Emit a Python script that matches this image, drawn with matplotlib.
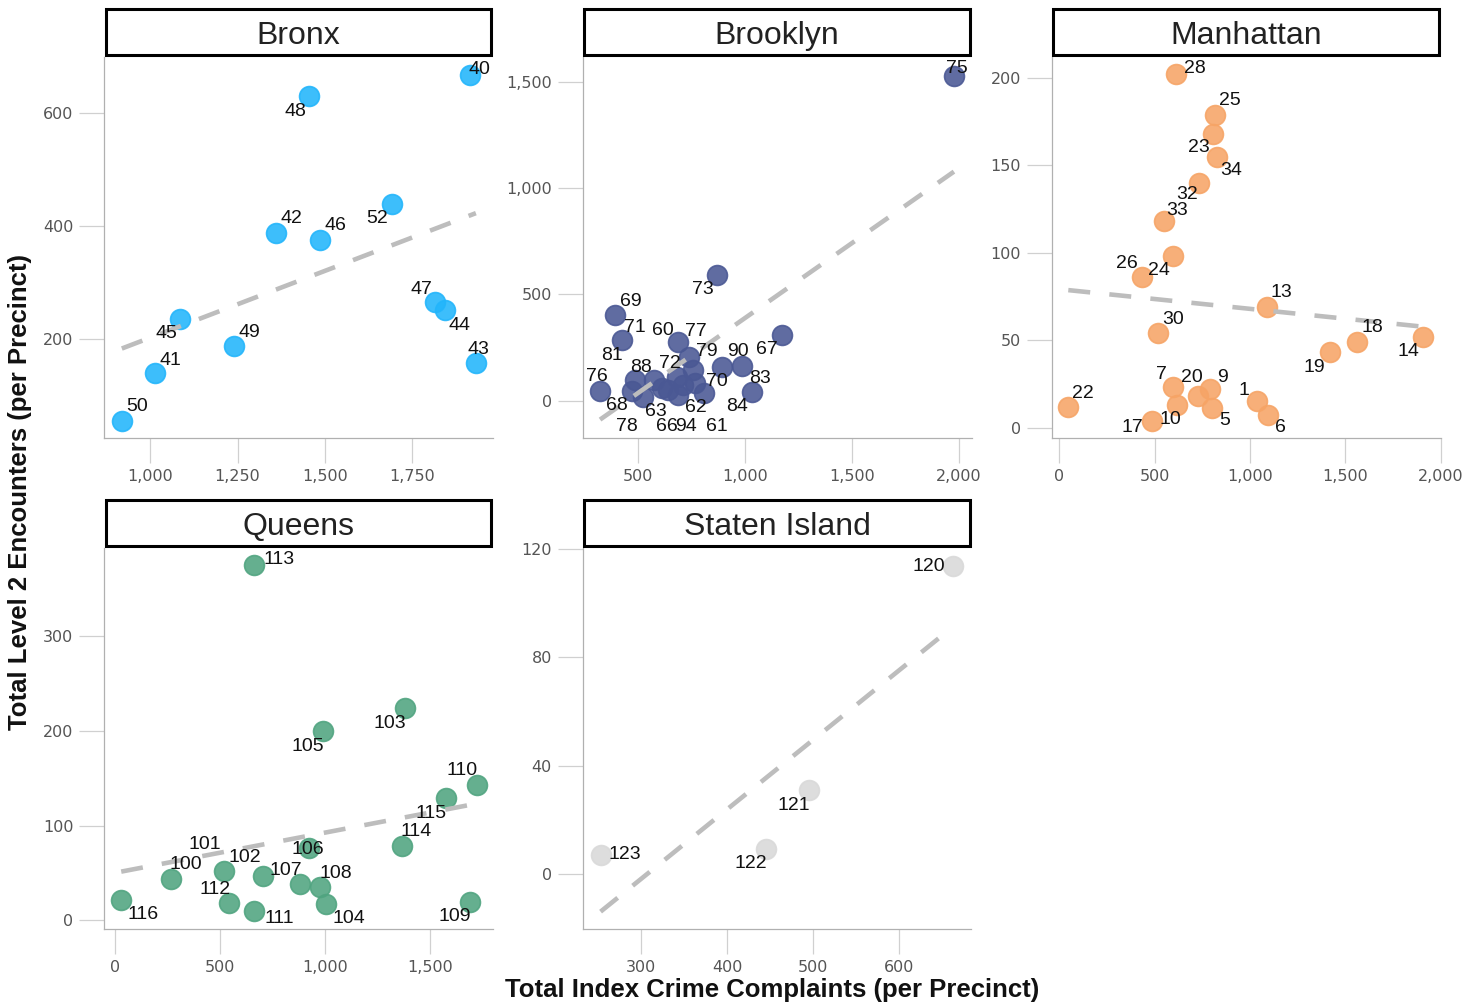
import numpy as np
import matplotlib.pyplot as plt
from matplotlib.patches import Rectangle
from matplotlib.ticker import FuncFormatter, FixedLocator

# precinct number, total index crime complaints, total level 2 encounters
bronx_pct = [40, 41, 42, 43, 44, 45, 46, 47, 48, 49, 50, 52]
bronx_crimes = [1916, 1015, 1360, 1932, 1844, 1086, 1486, 1815, 1455, 1241, 919, 1693]
bronx_l2 = [666, 140, 388, 158, 251, 236, 376, 265, 629, 189, 56, 439]

brooklyn_pct = [60, 61, 62, 63, 66, 67, 68, 69, 70, 71, 72, 73,
                75, 76, 77, 78, 79, 81, 83, 84, 88, 90, 94]
brooklyn_crimes = [689, 809, 713, 612, 643, 1172, 472, 394, 767, 428, 682, 871,
                   1977, 324, 741, 523, 759, 487, 985, 1036, 576, 892, 689]
brooklyn_l2 = [274, 36, 75, 60, 52, 310, 47, 405, 83, 285, 114, 589,
               1527, 47, 208, 20, 146, 99, 164, 39, 99, 161, 28]

manhattan_pct = [1, 5, 6, 7, 9, 10, 13, 14, 17, 18, 19, 20,
                 22, 23, 24, 25, 26, 28, 30, 32, 33, 34]
manhattan_crimes = [1037, 799, 1093, 598, 789, 619, 1087, 1909, 484, 1561, 1418, 726,
                    47, 804, 596, 818, 435, 612, 518, 731, 549, 829]
manhattan_l2 = [15, 11, 7, 23, 22, 13, 69, 52, 4, 49, 43, 18,
                12, 168, 98, 179, 86, 202, 54, 140, 118, 155]

queens_pct = [100, 101, 102, 103, 104, 105, 106, 107, 108, 109,
              110, 111, 112, 113, 114, 115, 116]
queens_crimes = [265, 521, 705, 1381, 1005, 989, 925, 881, 978, 1690,
                 1722, 663, 544, 663, 1365, 1575, 30]
queens_l2 = [44, 52, 47, 224, 17, 200, 76, 38, 35, 20,
             143, 10, 18, 375, 79, 129, 22]

staten_pct = [120, 121, 122, 123]
staten_crimes = [663, 495, 445, 253]
staten_l2 = [114, 31, 9, 7]

# label offsets in pixels (dx, dy), keyed by precinct
label_offsets = {
    40: (9, 6), 41: (15, 13), 42: (15, 14), 43: (3, 14), 44: (14, -15), 45: (-14, -15),
    46: (15, 14), 47: (-14, 13), 48: (-14, -15), 49: (15, 13), 50: (15, 14), 52: (-15, -15),
    60: (-15, 12), 61: (13, -33), 62: (13, -23), 63: (-6, -23), 66: (-1, -37), 67: (-15, -15),
    68: (-15, -15), 69: (16, 13), 70: (22, 2), 71: (13, 13), 72: (-7, 13), 73: (-14, -14),
    75: (3, 7), 76: (-3, 14), 77: (7, 25), 78: (-16, -30), 79: (14, 18), 81: (-23, 24),
    83: (18, -13), 84: (-15, -14), 88: (-13, 12), 90: (16, 15), 94: (8, -32),
    1: (-13, 11), 5: (13, -12), 6: (13, -12), 7: (-12, 13), 9: (13, 12), 10: (-7, -15),
    13: (15, 14), 14: (-15, -15), 17: (-19, -7), 18: (15, 14), 19: (-15, -15), 20: (-6, 19),
    22: (15, 13), 23: (-14, -14), 24: (-14, -14), 25: (15, 14), 26: (-15, 14), 28: (19, 6),
    30: (15, 14), 32: (-12, -12), 33: (13, 11), 34: (14, -14),
    100: (15, 14), 101: (-20, 27), 102: (-18, 18), 103: (-15, -15), 104: (23, -14),
    105: (-15, -16), 106: (-1, -1), 107: (-14, 14), 108: (15, 14), 109: (-15, -15),
    110: (-15, 14), 111: (25, -8), 112: (-14, 14), 113: (25, 6), 114: (14, 14),
    115: (-15, -15), 116: (22, -15),
    120: (-25, -1), 121: (-15, -16), 122: (-15, -14), 123: (24, 0),
}

panels = [
    ("Bronx", bronx_pct, bronx_crimes, bronx_l2, "#22b5fb",
     (868, 1981), (26, 698), [1000, 1250, 1500, 1750], [200, 400, 600]),
    ("Brooklyn", brooklyn_pct, brooklyn_crimes, brooklyn_l2, "#4a5894",
     (242, 2059), (-175, 1616), [500, 1000, 1500, 2000], [0, 500, 1000, 1500]),
    ("Manhattan", manhattan_pct, manhattan_crimes, manhattan_l2, "#f6a466",
     (-40, 2000), (-6, 212), [0, 500, 1000, 1500, 2000], [0, 50, 100, 150, 200]),
    ("Queens", queens_pct, queens_crimes, queens_l2, "#50a480",
     (-52, 1800), (-9, 393), [0, 500, 1000, 1500], [0, 100, 200, 300]),
    ("Staten Island", staten_pct, staten_crimes, staten_l2, "#d9d9d9",
     (232, 684), (-20.5, 120.5), [300, 400, 500, 600], [0, 40, 80, 120]),
]

W, H = 1479, 1006
fig = plt.figure(figsize=(W / 100, H / 100), dpi=100)

col_left = [104, 582.5, 1051.7]
row_top = [57, 548]
ax_w, ax_h = 389, 381

comma = FuncFormatter(lambda v, pos: "{:,.0f}".format(v))

for i, (name, pct, xs, ys, color, xlim, ylim, xticks, yticks) in enumerate(panels):
    r, c = divmod(i, 3)
    left = col_left[c]
    top = row_top[r]
    ax = fig.add_axes([left / W, 1 - (top + ax_h) / H, ax_w / W, ax_h / H])

    xs = np.array(xs, dtype=float)
    ys = np.array(ys, dtype=float)

    ax.scatter(xs, ys, s=205, color=color, alpha=0.88, edgecolor=color,
               linewidth=1.2, zorder=2)

    # least squares trend line
    k, b = np.polyfit(xs, ys, 1)
    xl = np.array([xs.min(), xs.max()])
    ax.plot(xl, k * xl + b, color="#bdbdbd", lw=3.3, dashes=(4.8, 4.2),
            solid_capstyle="butt", dash_capstyle="butt", zorder=3)

    for p, x, y in zip(pct, xs, ys):
        dx, dy = label_offsets[p]
        ax.annotate(str(p), (x, y), xytext=(dx, dy), textcoords="offset pixels",
                    ha="center", va="center", fontsize=14,
                    family="Liberation Sans", color="#111111", zorder=4)

    ax.set_xlim(*xlim)
    ax.set_ylim(*ylim)
    ax.xaxis.set_major_locator(FixedLocator(xticks))
    ax.yaxis.set_major_locator(FixedLocator(yticks))
    ax.xaxis.set_major_formatter(comma)
    ax.yaxis.set_major_formatter(comma)
    ax.tick_params(length=18, width=0.9, color="#d0d0d0", labelsize=11.5,
                   labelcolor="#555555", pad=4)
    for s in ("top", "right"):
        ax.spines[s].set_visible(False)
    for s in ("left", "bottom"):
        ax.spines[s].set_color("#b0b0b0")
        ax.spines[s].set_linewidth(0.9)
    ax.set_facecolor("white")

    # boxed panel title
    hb = 46 / ax_h
    ax.add_patch(Rectangle((0.004, 1 + 2 / ax_h), 0.992, hb, transform=ax.transAxes,
                           facecolor="white", edgecolor="black", lw=2.2,
                           clip_on=False, zorder=5))
    ax.text(0.5, 1 + 21 / ax_h, name, transform=ax.transAxes,
            ha="center", va="center", fontsize=23, family="Liberation Sans",
            color="#222222", zorder=6)

fig.text(772 / W, 1 - 990 / H, "Total Index Crime Complaints (per Precinct)",
         ha="center", va="center", fontsize=18.5, fontweight="bold",
         family="Liberation Sans", color="#111111")
fig.text(20 / W, 1 - 492 / H, "Total Level 2 Encounters (per Precinct)",
         ha="center", va="center", rotation=90, fontsize=18.5, fontweight="bold",
         family="Liberation Sans", color="#111111")

fig.savefig("out.png", dpi=100)
